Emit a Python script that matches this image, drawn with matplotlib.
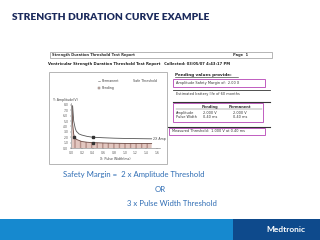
import matplotlib
matplotlib.use('Agg')
import matplotlib.pyplot as plt
from matplotlib.patches import Rectangle

# Strength duration curves (pulse width ms, amplitude V)
pw_safety = [0.03, 0.05, 0.08, 0.1, 0.15, 0.2, 0.3, 0.4, 0.6, 0.8, 1.0, 1.2, 1.5]
amp_safety = [7.8, 5.0, 3.6, 3.1, 2.6, 2.4, 2.15, 2.0, 1.9, 1.82, 1.77, 1.74, 1.7]
pw_thresh = [0.02, 0.03, 0.05, 0.06, 0.1, 0.2, 0.3, 0.4, 0.6, 0.8, 1.0, 1.2, 1.5]
amp_thresh = [7.8, 4.5, 2.6, 2.1, 1.6, 1.2, 1.07, 1.0, 0.93, 0.88, 0.85, 0.83, 0.82]
mark_pw = [0.4, 0.06, 0.4]
mark_amp = [2.0, 2.1, 1.0]

y_ticks = [0.0, 1.0, 2.0, 3.0, 4.0, 5.0, 6.0, 7.0, 8.0]
x_ticks = [0.0, 0.2, 0.4, 0.6, 0.8, 1.0, 1.2, 1.4, 1.6]

# right panel of the report
table_rows = ['Amplitude', 'Pulse Width']
pending_vals = ['2.000 V', '0.40 ms']
permanent_vals = ['2.000 V', '0.40 ms']

navy = '#1b2a5c'
blue_txt = '#2f6db4'
magenta = '#c05cc0'

fig = plt.figure(figsize=(3.2, 2.4), dpi=100)
bg = fig.add_axes([0, 0, 1, 1])
bg.set_xlim(0, 320)
bg.set_ylim(240, 0)
bg.axis('off')

# slide title
bg.text(12, 17, 'STRENGTH DURATION CURVE EXAMPLE', fontsize=7.3, fontweight='heavy',
        color=navy, family='Lato', va='center', ha='left')

# report header
bg.add_patch(Rectangle((50, 52), 222, 6, fill=False, ec='#999999', lw=0.5))
bg.text(52, 55, 'Strength Duration Threshold Test Report', fontsize=2.6,
        fontweight='bold', color='#333333', va='center')
bg.text(233, 55, 'Page  1', fontsize=2.6, fontweight='bold', color='#333333', va='center')
bg.text(48, 64.5, 'Ventricular Strength Duration Threshold Test Report   Collected: 03/05/07 4:43:17 PM',
        fontsize=2.7, fontweight='bold', color='#222222', va='center')

# chart frame
bg.add_patch(Rectangle((49, 72), 118, 92, fill=False, ec='#aaaaaa', lw=0.6))
bg.plot([98, 100], [81, 81], color='#666666', lw=0.4)
bg.text(102, 81, 'Permanent', fontsize=2.3, color='#444444', va='center')
bg.text(133, 81, 'Safe Threshold', fontsize=2.3, color='#444444', va='center')
bg.add_patch(Rectangle((97.5, 86.5), 2.5, 2, fc='#d8b8b0', ec='#777777', lw=0.3))
bg.text(102, 87.5, 'Pending', fontsize=2.3, color='#444444', va='center')
bg.text(53, 100, 'Y: Amplitude(V)', fontsize=2.3, color='#444444', va='center')
bg.text(115, 158.5, 'X: Pulse Width(ms)', fontsize=2.3, color='#444444', va='center', ha='center')

# right panel
bg.text(175, 75, 'Pending values provide:', fontsize=3, fontweight='bold', color='#222222',
        va='center')
bg.plot([175, 238], [77.3, 77.3], color='#222222', lw=0.4)
bg.add_patch(Rectangle((173, 79), 92, 8, fill=False, ec=magenta, lw=0.7))
bg.text(176, 83, 'Amplitude Safety Margin of:  2.00 X', fontsize=2.5, color='#333333', va='center')
bg.plot([173, 270], [90, 90], color='#333333', lw=0.6)
bg.text(176, 94.5, 'Estimated battery life of 60 months', fontsize=2.5, color='#333333', va='center')
bg.plot([173, 270], [102, 102], color='#333333', lw=0.8)
bg.add_patch(Rectangle((173, 103), 90, 19, fill=False, ec=magenta, lw=0.7))
bg.text(210, 107, 'Pending', fontsize=2.6, fontweight='bold', color='#333333', va='center', ha='center')
bg.text(240, 107, 'Permanent', fontsize=2.6, fontweight='bold', color='#333333', va='center', ha='center')
bg.plot([176, 262], [109.3, 109.3], color='#555555', lw=0.3)
for i, row in enumerate(table_rows):
    yy = 113 + i * 4.5
    bg.text(176, yy, row, fontsize=2.5, color='#333333', va='center')
    bg.text(210, yy, pending_vals[i], fontsize=2.5, color='#333333', va='center', ha='center')
    bg.text(240, yy, permanent_vals[i], fontsize=2.5, color='#333333', va='center', ha='center')
bg.plot([168, 270], [126.5, 126.5], color='#333333', lw=0.8)
bg.add_patch(Rectangle((169, 127.5), 96, 7, fill=False, ec=magenta, lw=0.7))
bg.text(172, 131, 'Measured Threshold:  1.000 V at 0.40 ms', fontsize=2.5, color='#333333', va='center')

# strength duration chart
ax = fig.add_axes([71 / 320, (240 - 148) / 240, 88.7 / 320, 44.8 / 240])
ax.fill_between(pw_thresh, 0, amp_thresh, facecolor='#e2c6bf', edgecolor='#b58f88',
                hatch='|||', lw=0)
ax.plot(pw_thresh, amp_thresh, color='#6b4a44', lw=0.6)
ax.plot(pw_safety, amp_safety, color='#555555', lw=0.6)
ax.plot(mark_pw, mark_amp, ls='none', marker='s', ms=1.6, mfc='#333333', mec='#333333')
ax.text(pw_safety[-1] + 0.02, amp_safety[-1], '2X Amp', fontsize=2.3, color='#444444',
        va='center')
ax.set_xlim(0, 1.65)
ax.set_ylim(0, 8.3)
ax.set_xticks(x_ticks)
ax.set_yticks(y_ticks)
ax.set_xticklabels(['%.1f' % v for v in x_ticks])
ax.set_yticklabels(['%.1f' % v for v in y_ticks])
ax.tick_params(labelsize=2.2, length=1, width=0.3, pad=1, colors='#555555')
for s in ['top', 'right']:
    ax.spines[s].set_visible(False)
for s in ['left', 'bottom']:
    ax.spines[s].set_linewidth(0.4)
    ax.spines[s].set_color('#777777')
ax.patch.set_alpha(0)

# safety margin note
bg.text(63, 175, 'Safety Margin =  2 x Amplitude Threshold', fontsize=5.6, color=blue_txt,
        family='Lato', va='center')
bg.text(160, 189, 'OR', fontsize=5.6, color=blue_txt, family='Lato', va='center', ha='center')
bg.text(127, 203, '3 x Pulse Width Threshold', fontsize=5.6, color=blue_txt, family='Lato',
        va='center')

# footer band
bg.add_patch(Rectangle((0, 219), 233, 21, fc='#1689cf', ec='none'))
bg.add_patch(Rectangle((233, 219), 87, 21, fc='#0e4a8c', ec='none'))
bg.text(286, 230, 'Medtronic', fontsize=6, fontweight='bold', color='white', family='Lato',
        va='center', ha='center')

fig.savefig('out.png', dpi=100)
